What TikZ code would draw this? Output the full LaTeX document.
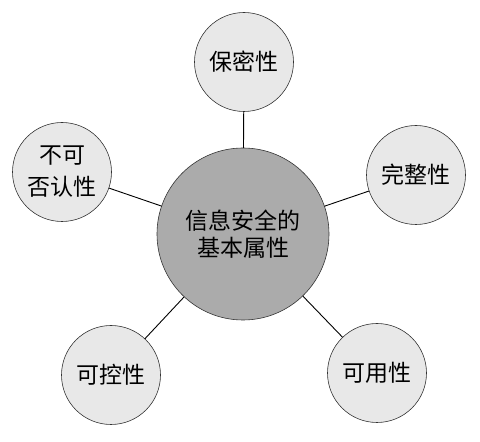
\documentclass[tikz,border=0pt]{standalone}
\usepackage{fontspec}
\setmainfont{Noto Sans CJK SC}
\begin{document}
\begin{tikzpicture}[x=1pt, y=1pt, line join=round, line cap=round]
\tikzset{every node/.style={circle, draw=black!80, line width=0.6pt, align=center, inner sep=0pt, font=\fontsize{23}{27}\selectfont},
  core/.style={fill=black!33, minimum size=172pt},
  prop/.style={fill=black!9, minimum size=99pt},
  link/.style={line width=0.9pt}}
\useasboundingbox (0,0) rectangle (480,442);
\node[core] (core) at (243,208) {信息安全的\\基本属性};
\node[prop] (secret) at (244,380) {保密性};
\node[prop] (whole) at (416,267) {完整性};
\node[prop] (usable) at (377,69) {可用性};
\node[prop] (control) at (111,67) {可控性};
\node[prop, font=\fontsize{23}{32}\selectfont] (deny) at (62,270) {不可\\否认性};
\foreach \n in {secret,whole,usable,control,deny}\draw[link] (core)--(\n);
\end{tikzpicture}
\end{document}
